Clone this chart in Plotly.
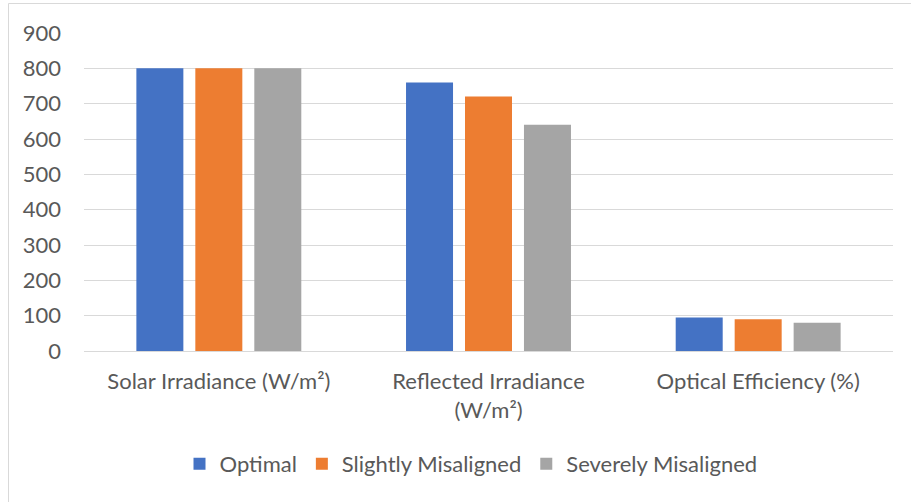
import plotly.graph_objects as go

# Categories and series values
categories = ["Solar Irradiance (W/m²)", "Reflected Irradiance (W/m²)", "Optical Efficiency (%)"]
category_labels = ["Solar Irradiance (W/m²)", "Reflected Irradiance<br>(W/m²)", "Optical Efficiency (%)"]
optimal = [800, 760, 95]
slightly_misaligned = [800, 720, 90]
severely_misaligned = [800, 640, 80]
y_ticks = [0, 100, 200, 300, 400, 500, 600, 700, 800, 900]

series = [
    ("Optimal", optimal, "#4472C4"),
    ("Slightly Misaligned", slightly_misaligned, "#ED7D31"),
    ("Severely Misaligned", severely_misaligned, "#A5A5A5"),
]

W, H = 911, 502
ML, MR, MT, MB = 84, 18, 33, 151
FONT = "Lato"
FS = 22
TXT = "#595959"
GRID = "#D9D9D9"

fig = go.Figure()
for name, vals, color in series:
    fig.add_trace(go.Bar(
        x=categories, y=vals, name=name,
        marker=dict(color=color, line=dict(width=0)),
    ))

# chart-area frame (extends past the right and bottom edges of the page)
pw, ph = W - ML - MR, H - MT - MB
fig.add_shape(
    type="rect", xref="paper", yref="paper", layer="below",
    x0=(8.5 - ML) / pw, x1=(W + 20 - ML) / pw,
    y0=-(H + 20 - (MT + ph)) / ph, y1=(MT + ph - 3.5) / ph,
    line=dict(color=GRID, width=1), fillcolor="rgba(0,0,0,0)",
)

fig.update_layout(
    width=W, height=H,
    margin=dict(l=ML, r=MR, t=MT, b=MB, pad=0),
    paper_bgcolor="white", plot_bgcolor="white",
    barmode="group", bargap=0.344, bargroupgap=0.203,
    font=dict(family=FONT, size=FS, color=TXT),
    showlegend=True,
    legend=dict(
        orientation="h", x=(471 - ML) / pw, xanchor="center", y=-0.355, yanchor="middle",
        font=dict(family=FONT, size=FS, color=TXT),
        itemclick=False, traceorder="normal", itemwidth=30,
    ),
    xaxis=dict(
        tickmode="array", tickvals=categories, ticktext=category_labels,
        showgrid=False, showline=False, ticks="", zeroline=False,
        ticklabelstandoff=15,
        tickfont=dict(family=FONT, size=FS, color=TXT),
    ),
    yaxis=dict(
        range=[0, 900], tickmode="array", tickvals=y_ticks,
        showgrid=True, gridcolor=GRID, gridwidth=1.3,
        zeroline=True, zerolinecolor=GRID, zerolinewidth=1.3,
        showline=False, ticks="", ticklabelstandoff=22,
        tickfont=dict(family=FONT, size=FS, color=TXT),
    ),
)

fig.write_html("out.html")
